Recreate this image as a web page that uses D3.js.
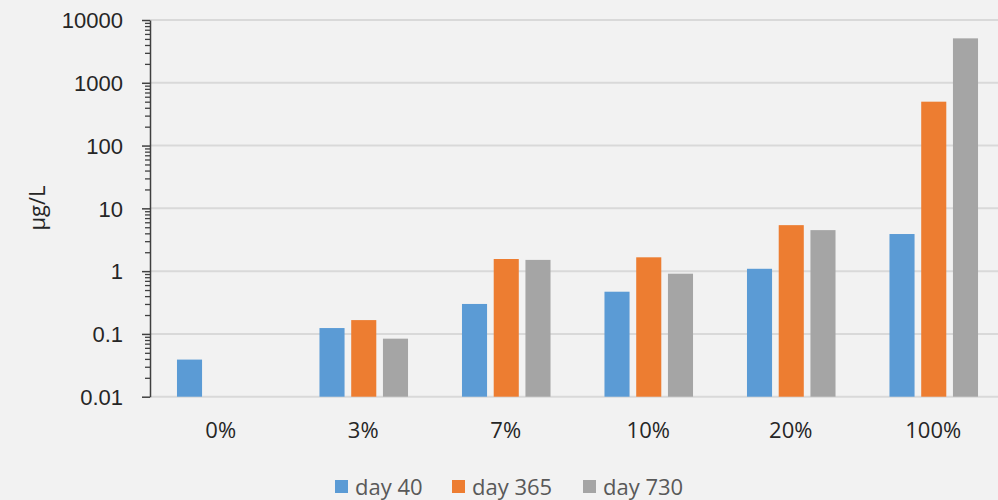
<!DOCTYPE html>
<html>
<head>
<meta charset="utf-8">
<script src="https://cdn.jsdelivr.net/npm/d3@7"></script>
<style>
  html, body { margin: 0; padding: 0; background: #f2f2f2; }
  svg { display: block; font-family: "Open Sans", "Noto Sans", sans-serif; }
</style>
</head>
<body>
<svg id="chart" width="998" height="500"></svg>
<script>
// Concentration by blend level, log scale
const categories = ["0%", "3%", "7%", "10%", "20%", "100%"];
const seriesNames = ["day 40", "day 365", "day 730"];
const day40  = [0.039, 0.124, 0.30, 0.47, 1.09, 3.9];
const day365 = [null, 0.166, 1.56, 1.66, 5.4, 500];
const day730 = [null, 0.084, 1.51, 0.91, 4.5, 5100];
const yTicks = [0.01, 0.1, 1, 10, 100, 1000, 10000];
const yTickLabels = ["0.01", "0.1", "1", "10", "100", "1000", "10000"];
const colors = ["#5b9bd5", "#ed7d31", "#a5a5a5"];

const series = [day40, day365, day730];
const svg = d3.select("#chart");

const plotLeft = 150, plotRight = 1005, plotTop = 20, plotBottom = 396.7;
const fontSize = "22px";

const x = d3.scaleBand().domain(categories).range([plotLeft, plotRight]).paddingInner(0).paddingOuter(0);
const xs = d3.scaleBand().domain(seriesNames).range([0, x.bandwidth()]).paddingInner(0.21).paddingOuter(0.85);
const y = d3.scaleLog().domain([0.01, 10000]).range([plotBottom, plotTop]);

// gridlines
svg.append("g")
  .selectAll("line").data(yTicks).join("line")
  .attr("x1", plotLeft).attr("x2", 998)
  .attr("y1", d => y(d)).attr("y2", d => y(d))
  .attr("stroke", "#d9d9d9").attr("stroke-width", 2);

// bars
const groups = svg.append("g").selectAll("g").data(categories).join("g")
  .attr("transform", d => `translate(${x(d)},0)`);
groups.selectAll("rect")
  .data((c, i) => seriesNames.map((s, j) => ({ s, j, v: series[j][i] })).filter(d => d.v != null))
  .join("rect")
  .attr("x", d => xs(d.s))
  .attr("width", xs.bandwidth())
  .attr("y", d => y(d.v))
  .attr("height", d => plotBottom - y(d.v))
  .attr("fill", d => colors[d.j]);

// minor ticks
const minor = [];
for (let e = -2; e < 4; e++) for (let m = 2; m <= 9; m++) minor.push(m * Math.pow(10, e));
svg.append("g").attr("transform", `translate(${plotLeft},0)`)
  .call(d3.axisLeft(y).tickValues(minor).tickSize(5).tickFormat(""))
  .call(g => g.select(".domain").remove())
  .call(g => g.selectAll("line").attr("stroke", "#404040").attr("stroke-width", 1.3));

// major axis
svg.append("g").attr("transform", `translate(${plotLeft},0)`)
  .call(d3.axisLeft(y).tickValues(yTicks).tickSize(8).tickSizeOuter(0)
    .tickFormat((d, i) => yTickLabels[i]).tickPadding(19))
  .call(g => g.select(".domain").attr("stroke", "#404040").attr("stroke-width", 1.5))
  .call(g => g.selectAll(".tick line").attr("stroke", "#404040").attr("stroke-width", 1.5))
  .call(g => g.selectAll("text").attr("fill", "#262626").style("font-size", fontSize)
    .attr("dy", "0.35em"));

// x labels
svg.append("g").selectAll("text").data(categories).join("text")
  .attr("x", d => x(d) + x.bandwidth() / 2 - 0.5)
  .attr("y", 430)
  .attr("dy", "0.35em")
  .attr("text-anchor", "middle")
  .attr("fill", "#262626")
  .style("font-size", fontSize)
  .text(d => d);

// y axis title
svg.append("text")
  .attr("transform", "translate(37,208) rotate(-90)")
  .attr("text-anchor", "middle")
  .attr("dy", "0.35em")
  .attr("fill", "#262626")
  .style("font-size", fontSize)
  .text("µg/L");

// legend
const legendX = [335, 452, 583];
const lg = svg.append("g").selectAll("g").data(seriesNames).join("g")
  .attr("transform", (d, i) => `translate(${legendX[i]},487)`);
lg.append("rect").attr("x", 0).attr("y", -7).attr("width", 13).attr("height", 13)
  .attr("fill", (d, i) => colors[i]);
lg.append("text").attr("x", 20).attr("y", 0).attr("dy", "0.35em")
  .attr("fill", "#595959").style("font-size", fontSize).text(d => d);
</script>
</body>
</html>
